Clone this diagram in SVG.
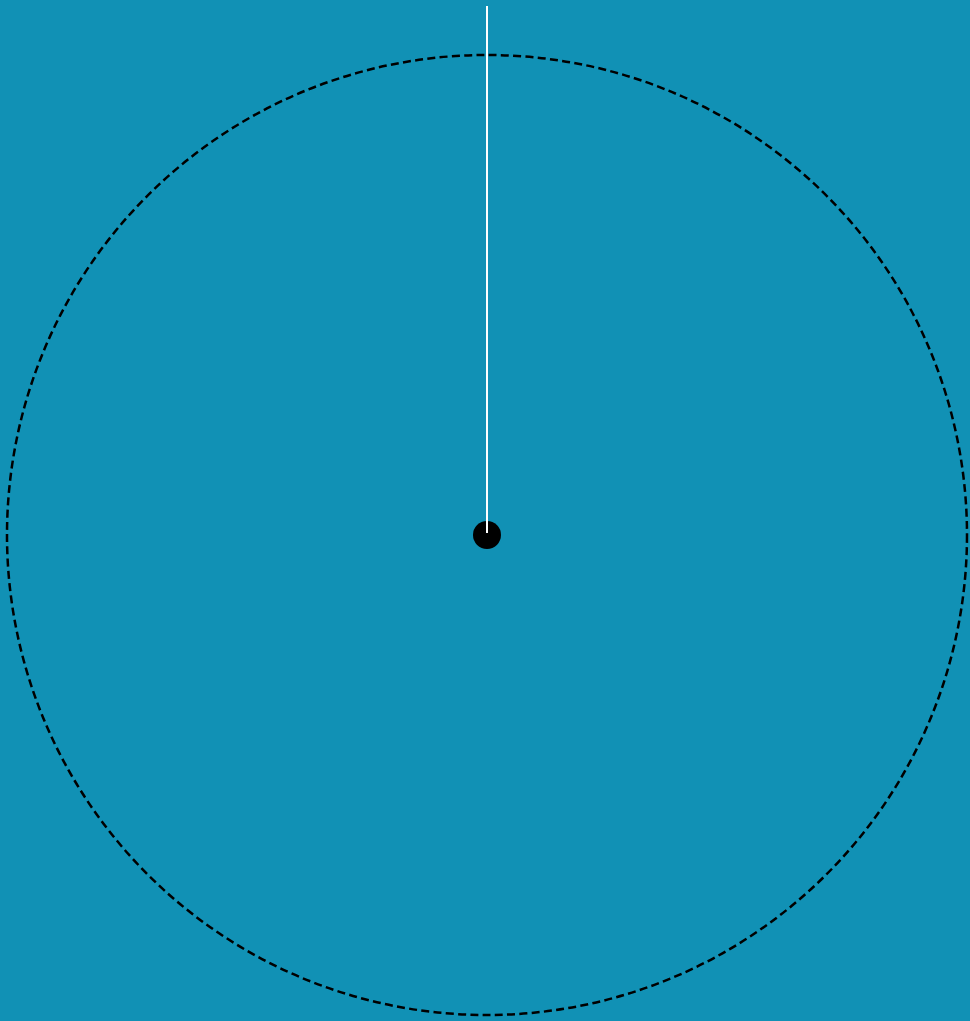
<svg xmlns="http://www.w3.org/2000/svg" width="970" height="1021" viewBox="0 0 970 1021">
<style>
.orbit{fill:none;stroke:#000;stroke-width:2.5;stroke-dasharray:8 4.3}
.hand{stroke:#fff;stroke-width:2}
</style>
<rect width="970" height="1021" fill="#1191b5"/>
<g id="orbit"><circle class="orbit" cx="487" cy="535" r="480"/></g>
<g id="connectors"><line class="hand" x1="487" y1="6" x2="487" y2="533"/></g>
<g id="center"><circle cx="487" cy="535" r="14" fill="#000"/><line class="hand" x1="487" y1="520" x2="487" y2="533"/></g>
</svg>
